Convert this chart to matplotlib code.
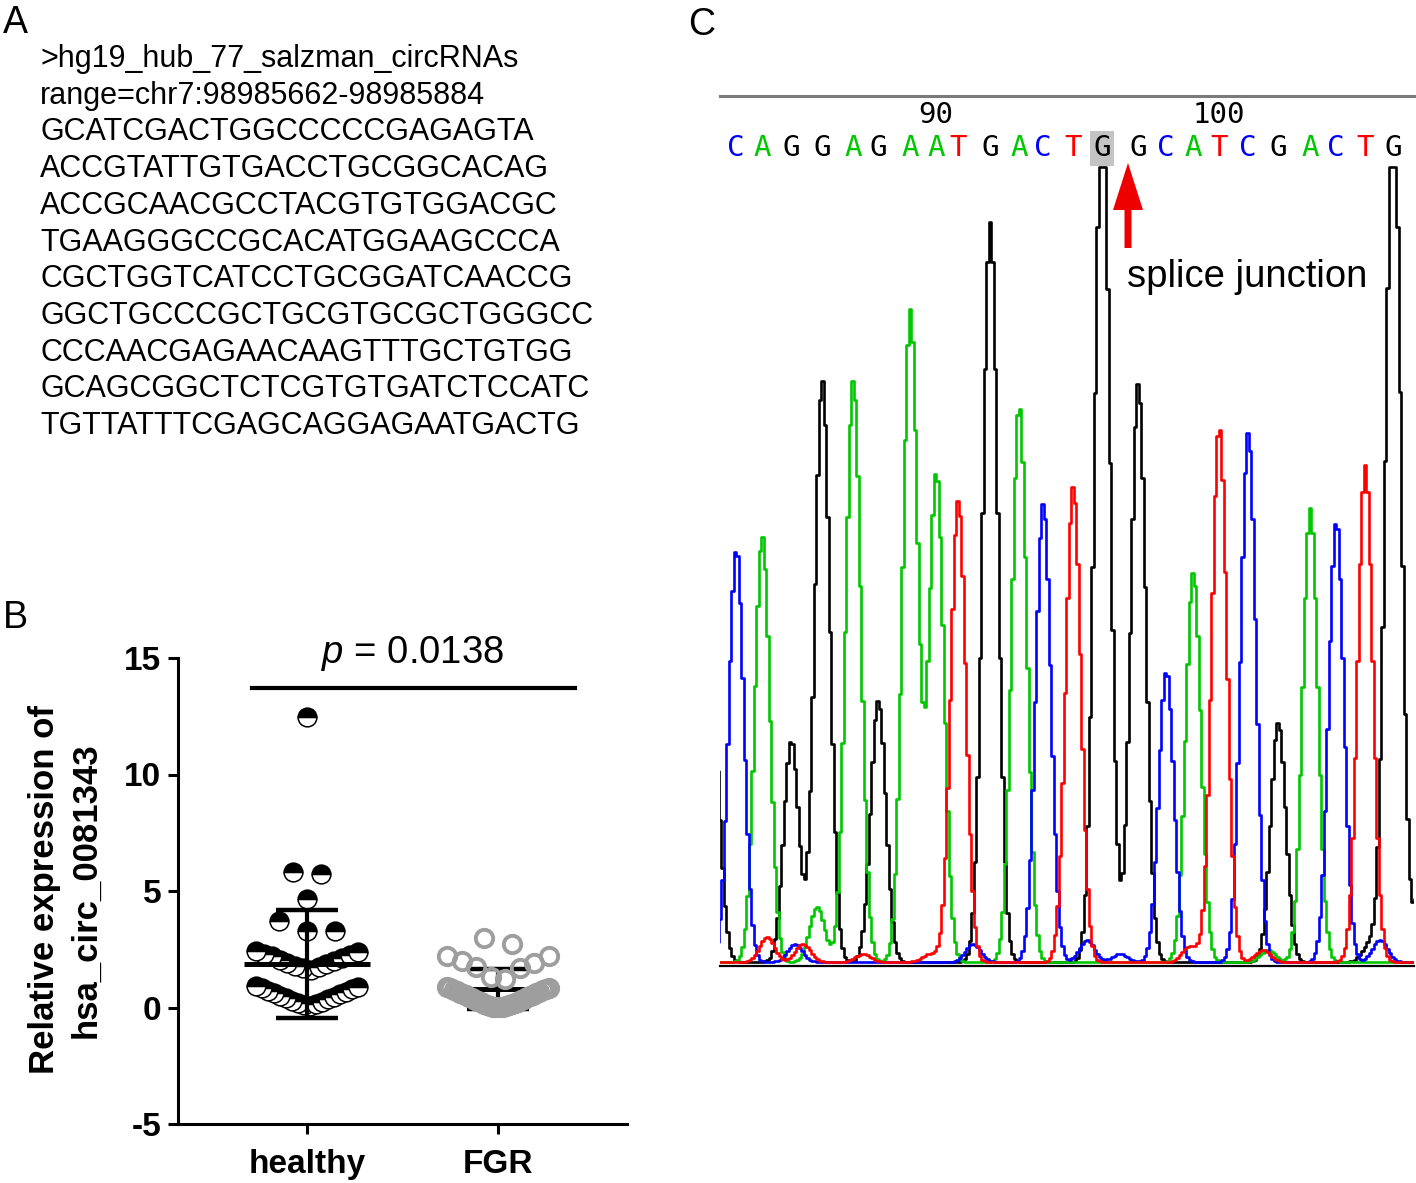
import numpy as np
import matplotlib.pyplot as plt

plt.rcParams['font.family'] = ['Liberation Sans', 'DejaVu Sans']
plt.rcParams['mathtext.fontset'] = 'custom'
plt.rcParams['mathtext.rm'] = 'Liberation Sans'
plt.rcParams['mathtext.it'] = 'Liberation Sans:italic'

W, H = 1416, 1183

# ---- panel A: sequence text
seq_header = ['>hg19_hub_77_salzman_circRNAs', 'range=chr7:98985662-98985884']
seq_lines = ['GCATCGACTGGCCCCCGAGAGTA',
             'ACCGTATTGTGACCTGCGGCACAG',
             'ACCGCAACGCCTACGTGTGGACGC',
             'TGAAGGGCCGCACATGGAAGCCCA',
             'CGCTGGTCATCCTGCGGATCAACCG',
             'GGCTGCCCGCTGCGTGCGCTGGGCC',
             'CCCAACGAGAACAAGTTTGCTGTGG',
             'GCAGCGGCTCTCGTGTGATCTCCATC',
             'TGTTATTTCGAGCAGGAGAATGACTG']

# ---- panel B: scatter dot plot
groups = ['healthy', 'FGR']
healthy_values = [12.45, 5.8, 5.72, 4.65, 3.7, 3.3, 3.3,
                  2.42, 2.38, 2.3, 2.25, 2.2, 2.12, 2.05, 1.98, 1.92, 1.86, 1.8, 1.74, 1.68, 1.62,
                  0.92, 0.88, 0.83, 0.78, 0.72, 0.68, 0.62, 0.56, 0.5, 0.45, 0.4, 0.35, 0.3, 0.25,
                  0.2, 0.14, 0.09, 0.05]
fgr_values = [3.0, 2.72, 2.2, 2.2, 2.0, 1.9, 1.75, 1.7, 1.3, 1.22,
              0.88, 0.85, 0.82, 0.79, 0.76, 0.73, 0.7, 0.67, 0.64, 0.61, 0.58, 0.55, 0.52,
              0.49, 0.46, 0.43, 0.4, 0.37, 0.34, 0.31, 0.28, 0.25, 0.22, 0.19, 0.17, 0.14,
              0.12, 0.1, 0.08, 0.06, 0.04, 0.03, 0.02, 0.01]
group_mean = [1.87, 0.8]
group_sd = [2.3, 0.85]
p_value = '0.0138'
y_ticks = [-5, 0, 5, 10, 15]

# ---- panel C: chromatogram
bases = 'CAGGAGAATGACTGGCATCGACTG'
first_base_number = 83
peak_pos = [16, 42, 71, 102, 133, 158, 190, 216, 238, 270, 299, 323,
            353, 382, 418, 446, 473, 499, 528, 558, 590, 616, 645, 673]
peak_height = [414, 426, 222, 582, 582, 262, 652, 490, 462, 740, 558, 459,
               476, 880, 579, 292, 390, 537, 530, 240, 454, 442, 497, 880]
edge_pos = [-8, 706]
edge_height = [250, 150]
edge_base = ['G', 'G']
noise_pos = [47, 75, 83, 97, 143, 210, 253, 367, 400, 470, 543, 548, 650, 660]
noise_height = [25, 18, 18, 55, 8, 8, 18, 22, 8, 16, 12, 12, 18, 22]
noise_base = ['T', 'C', 'T', 'A', 'T', 'T', 'C', 'C', 'C', 'T', 'T', 'A', 'G', 'C']
junction_pos = 408
clip_level = 795

base_colors = {'A': '#00c800', 'C': '#0000ff', 'G': '#000000', 'T': '#ff0000'}


def swarm_offsets(values, bin_h=1.5, bin_start=-0.3, max_step=0.147, max_width=0.53):
    values = np.asarray(values, float)
    offsets = np.zeros(len(values))
    bins = np.floor((values - bin_start) / bin_h).astype(int)
    for b in np.unique(bins):
        idx = np.where(bins == b)[0]
        idx = idx[np.argsort(values[idx], kind='stable')]
        n = len(idx)
        if n == 1:
            continue
        step = min(max_step, max_width / (n - 1))
        slots = np.arange(n) - (n - 1) / 2
        slots = sorted(slots, key=lambda s: (abs(s), -s))
        offsets[idx] = np.array(slots) * step
    return offsets


def trace(xs, positions, heights, sigma=7.5):
    y = np.zeros_like(xs)
    for p, h in zip(positions, heights):
        y += h * np.exp(-(xs - p) ** 2 / (2 * sigma ** 2))
    return y


fig = plt.figure(figsize=(W / 100, H / 100), dpi=100)

# panel labels
fig.text(3 / W, 1 - 33 / H, 'A', fontsize=27, va='baseline')
fig.text(3 / W, 1 - 628 / H, 'B', fontsize=27, va='baseline')
fig.text(688 / W, 1 - 35 / H, 'C', fontsize=27, va='baseline')

# ---- A
for i, line in enumerate(seq_header + seq_lines):
    fig.text(40 / W, 1 - (67 + i * 36.7) / H, line, fontsize=22, va='baseline')

# ---- B
ax_b = fig.add_axes([178 / W, 1 - 1124 / H, 449 / W, 466 / H])
ax_b.set_xlim(-0.675, 1.675)
ax_b.set_ylim(-5, 15)
for side in ['top', 'right']:
    ax_b.spines[side].set_visible(False)
for side in ['left', 'bottom']:
    ax_b.spines[side].set_linewidth(2.2)

hv = np.array(healthy_values)
order = np.argsort(hv, kind='stable')
off = swarm_offsets(hv)
ax_b.plot(0 + off[order], hv[order], linestyle='none', marker='o', markersize=13.5,
          fillstyle='top', markerfacecolor='black', markerfacecoloralt='white',
          markeredgecolor='black', markeredgewidth=1.1, zorder=3)

fv = np.array(fgr_values)
order = np.argsort(fv, kind='stable')
off = swarm_offsets(fv)
ax_b.plot(1 + off[order], fv[order], linestyle='none', marker='o', markersize=12.5,
          markerfacecolor='none', markeredgecolor='#9e9e9e', markeredgewidth=2.8, zorder=3)

for i, (m, s) in enumerate(zip(group_mean, group_sd)):
    z = 4 if i == 0 else 2
    half = 0.33 if i == 0 else 0.26
    ax_b.errorbar(i, m, yerr=s, fmt='none', ecolor='black', elinewidth=3,
                  capsize=22.5, capthick=3.2, zorder=z)
    ax_b.hlines(m, i - half, i + half, color='black', lw=3.6, zorder=z)

ax_b.plot([-0.288, 1.403], [13.7, 13.7], color='black', lw=3, clip_on=False)
ax_b.text(0.555, 14.8, '$p$ = ' + p_value, fontsize=27.5, ha='center', va='baseline')

ax_b.set_yticks(y_ticks)
ax_b.set_yticklabels([str(t) for t in y_ticks])
ax_b.set_xticks([0, 1])
ax_b.set_xticklabels(groups)
ax_b.tick_params(axis='both', direction='out', length=7, width=2.2, labelsize=24)
ax_b.tick_params(axis='y', pad=5)
ax_b.tick_params(axis='x', pad=11)
for lab in ax_b.get_xticklabels() + ax_b.get_yticklabels():
    lab.set_fontweight('bold')

fig.text(65 / W, 1 - 890 / H, 'Relative expression of\nhsa_circ_0081343', rotation=90,
         fontsize=25, fontweight='bold', ha='center', va='center',
         multialignment='center', linespacing=1.32)

# ---- C
ax_c = fig.add_axes([720 / W, 1 - 966 / H, 694 / W, 870 / H])
ax_c.set_xlim(0, 694)
ax_c.set_ylim(-4, 866)
ax_c.set_xticks([])
ax_c.set_yticks([])
ax_c.spines['left'].set_visible(False)
ax_c.spines['right'].set_visible(False)
ax_c.spines['top'].set_color('#7a7a7a')
ax_c.spines['top'].set_linewidth(2.2)
ax_c.spines['bottom'].set_linewidth(1.6)

xs = np.arange(-20, 720, 2.5)
all_bases = list(bases) + edge_base + noise_base
all_pos = peak_pos + edge_pos + noise_pos
all_height = peak_height + edge_height + noise_height
for b in ['G', 'A', 'C', 'T']:
    pos = [p for bb, p in zip(all_bases, all_pos) if bb == b]
    hts = [h for bb, h in zip(all_bases, all_height) if bb == b]
    y = np.minimum(trace(xs, pos, hts), clip_level)
    ax_c.plot(xs, y, color=base_colors[b], lw=1.9, drawstyle='steps-mid')

for i, (b, p) in enumerate(zip(bases, peak_pos)):
    kw = {}
    if i == 13:
        kw['bbox'] = dict(boxstyle='square,pad=0.12', facecolor='#c4c4c4', edgecolor='none')
    ax_c.text(p, 806, b, color=base_colors[b], fontsize=21, family=['DejaVu Sans Mono'],
              ha='center', va='baseline', **kw)
    num = first_base_number + i
    if num % 10 == 0:
        ax_c.text(p, 839, str(num), fontsize=21, family=['DejaVu Sans Mono'],
                  ha='center', va='baseline')

ax_c.arrow(junction_pos, 714, 0, 85, width=7, head_width=30, head_length=47,
           length_includes_head=True, fc='#ee0000', ec='none')
ax_c.text(junction_pos - 1, 675, 'splice junction', fontsize=27.5, ha='left', va='baseline')

fig.savefig('out.png', dpi=100)
